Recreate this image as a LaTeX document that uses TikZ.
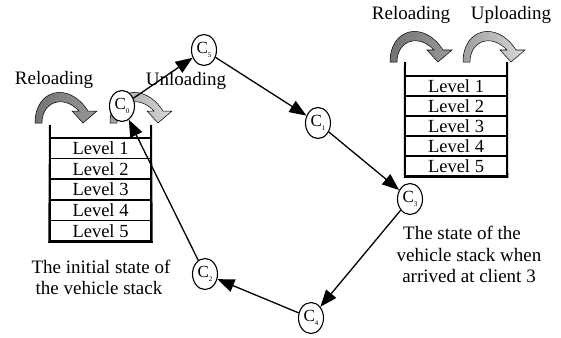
\documentclass[tikz,border=0pt]{standalone}
\usepackage{fontspec}
\setmainfont{Liberation Serif}
\usetikzlibrary{arrows.meta,shapes.geometric}
\newcommand\bentarrow[3]{%
  \begin{scope}[shift={#1}, yscale=-1]
    \draw[line width=0.5pt, left color=#2, right color=#3]
      (0,0) -- (7,0) .. controls (7,21) and (28,29) .. (44,12)
      -- (37,12) -- (48,0) -- (62,12) -- (53,12)
      .. controls (34,42) and (0,34) .. (0,0) -- cycle;
  \end{scope}}
\newcommand\cl[1]{C\raisebox{-3.5pt}{\fontsize{7}{7}\selectfont #1}}
\begin{document}
\begin{tikzpicture}[x=1pt,y=-1pt,
  lbl/.style={font=\fontsize{19}{21}\selectfont, inner sep=0pt},
  cnode/.style={ellipse, draw, line width=1.1pt, fill=white, minimum width=25pt,
    minimum height=31pt, inner sep=0pt, font=\fontsize{17}{17}\selectfont},
  lvl/.style={draw, line width=1.5pt, minimum width=101pt, inner sep=0pt,
    font=\fontsize{18.5}{18.5}\selectfont},
  route/.style={line width=1.3pt, -{Triangle[length=17pt,width=13pt]}},
  wall/.style={line width=2pt}]
\useasboundingbox (0,0) rectangle (561,337);
\fill[white] (0,0) rectangle (561,337);

% left stack
\foreach \i in {1,...,5}{
  \node[lvl, minimum height=20.6pt] (a\i) at (100.5,{138+20.6*(\i-0.5)}) {Level \i};
}
\draw[wall] (50,125) -- (a5.south west) -- (a5.south east) -- (151,125);

% right stack
\foreach \i in {1,...,5}{
  \node[lvl, minimum height=20pt] (b\i) at (456,{76+20*(\i-0.5)}) {Level \i};
}
\draw[wall] (405,62) -- (b5.south west) -- (b5.south east) -- (507,62);

% bent arrows
\bentarrow{(35,123)}{black!55}{black!40}
\bentarrow{(110,123)}{black!38}{black!15}
\bentarrow{(390,62)}{black!55}{black!40}
\bentarrow{(463,62)}{black!38}{black!15}

% labels
\node[lbl] (rl1) at (54,80) {Reloading};
\node[lbl] (ul) at (186,81) {Unloading};
\node[lbl] (rl2) at (411,15) {Reloading};
\node[lbl] (up) at (511,15) {Uploading};
\node[lbl] (init1) at (101,267) {The initial state of};
\node[lbl] (init2) at (99,288) {the vehicle stack};
\node[lbl] (st1) at (462,233) {The state of the};
\node[lbl] (st2) at (469,255) {vehicle stack when};
\node[lbl] (st3) at (469,276) {arrived at client 3};

% clients
\node[cnode] (c0) at (122,106) {\cl{0}};
\node[cnode] (c5) at (204,50) {\cl{5}};
\node[cnode] (c1) at (318,123) {\cl{1}};
\node[cnode] (c3) at (410,199) {\cl{3}};
\node[cnode] (c4) at (311,318) {\cl{4}};
\node[cnode] (c2) at (205,274) {\cl{2}};

% route
\draw[route] (c0) -- (c5);
\draw[route] (c5) -- (c1);
\draw[route] (c1) -- (c3);
\draw[route] (c3) -- (c4);
\draw[route] (c4) -- (c2);
\draw[route] (c2) -- (c0);
\end{tikzpicture}
\end{document}
